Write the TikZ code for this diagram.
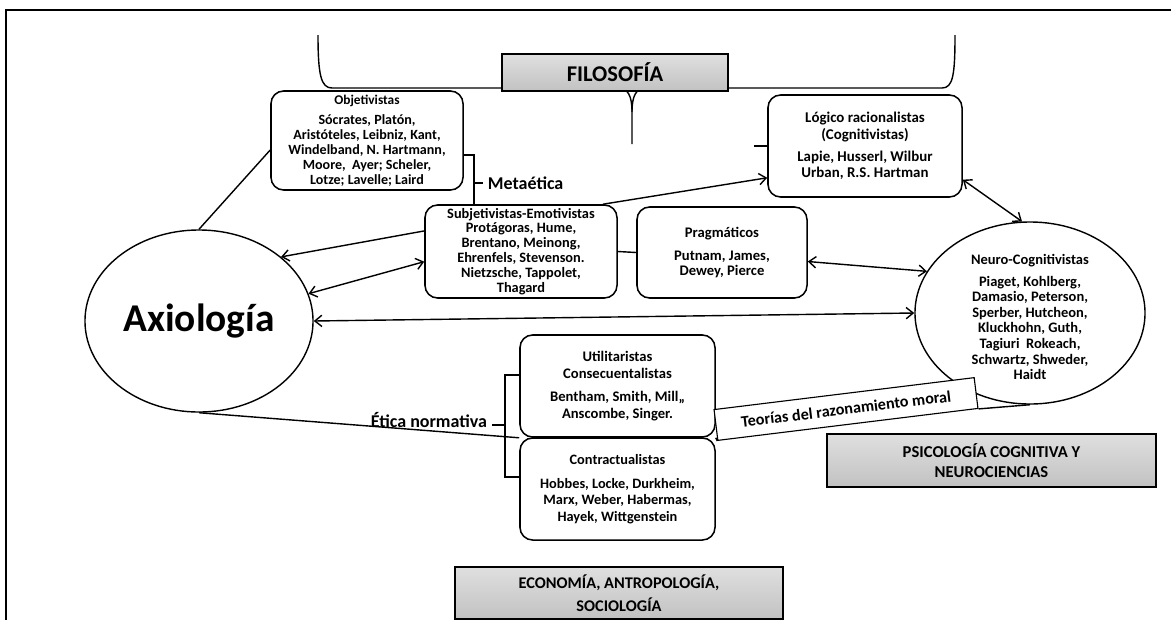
\documentclass[tikz,border=0pt]{standalone}
\usepackage{fontspec}
\setmainfont{Carlito}
\usetikzlibrary{shapes.geometric,arrows.meta,shadows}

\begin{document}
\begin{tikzpicture}[x=0.025cm,y=-0.025cm,
    every node/.style={font=\bfseries},
    >={Straight Barb[length=5pt,width=8pt]},
    autores/.style={draw,line width=1.1pt,rounded corners=9pt,align=center,inner sep=0pt,
        font=\fontsize{10}{11.5}\selectfont\bfseries},
    elipse/.style={draw,ellipse,line width=1pt,inner sep=0pt},
    area/.style={draw,line width=1pt,top color=gray!25,bottom color=gray!48,align=center,
        drop shadow={shadow xshift=1pt,shadow yshift=-1pt,fill=black!60,opacity=1}},
    enlace/.style={line width=1pt},
    rotulo/.style={font=\fontsize{12.8}{14}\selectfont\bfseries}]

    \useasboundingbox (0,0) rectangle (1171,620);

    % Marco
    \draw[line width=1.5pt] (6,620) -- (6,10) -- (1171,10);

    % Llave de la filosofia
    \draw[enlace] (318,35) .. controls (318,75) and (321,88) .. (332,88) -- (618,88)
        .. controls (628,88) and (632,96) .. (632,112) -- (632,144);
    \draw[enlace] (632,112) .. controls (632,96) and (636,88) .. (646,88) -- (942,88)
        .. controls (953,88) and (955,75) .. (955,35);

    % Areas
    \node[area,minimum width=5.65cm,minimum height=0.925cm,font=\fontsize{16}{18}\selectfont\bfseries] (filosofia) at (615,72.5) {FILOSOFÍA};
    \node[area,minimum width=8.225cm,minimum height=1.325cm,font=\fontsize{11.8}{14}\selectfont\bfseries] (psicologia) at (991.5,460.5) {PSICOLOGÍA COGNITIVA Y\\ NEUROCIENCIAS};
    \node[area,minimum width=8.2cm,minimum height=1.3cm,font=\fontsize{11.6}{16}\selectfont\bfseries] (economia) at (619,593) {ECONOMÍA, ANTROPOLOGÍA,\\ SOCIOLOGÍA};

    % Corrientes
    \node[autores,minimum width=4.8cm,minimum height=2.475cm,font=\fontsize{10}{10.6}\selectfont\bfseries] (objetivistas) at (367,140.5)
        {{\fontsize{9.5}{10.6}\selectfont Objetivistas}\\[4pt] Sócrates, Platón,\\ Aristóteles, Leibniz, Kant,\\ Windelband, N. Hartmann,\\ Moore,~ Ayer; Scheler,\\ Lotze; Lavelle; Laird};
    \node[autores,minimum width=4.8cm,minimum height=2.325cm,font=\fontsize{10.2}{10.6}\selectfont\bfseries] (subjetivistas) at (521,251.5)
        {Subjetivistas-Emotivistas\\ Protágoras, Hume,\\ Brentano, Meinong,\\ Ehrenfels, Stevenson.\\ Nietzsche, Tappolet,\\ Thagard};
    \node[autores,minimum width=4.25cm,minimum height=2.275cm,font=\fontsize{10.4}{10.8}\selectfont\bfseries] (pragmaticos) at (722,252.5)
        {Pragmáticos\\[6pt] Putnam, James,\\ Dewey, Pierce};
    \node[autores,minimum width=4.85cm,minimum height=2.55cm,font=\fontsize{10.6}{11.8}\selectfont\bfseries] (logicos) at (865,146)
        {Lógico racionalistas\\ (Cognitivistas)\\[4pt] Lapie, Husserl, Wilbur\\ Urban, R.S. Hartman};
    \node[autores,minimum width=4.875cm,minimum height=2.55cm,font=\fontsize{10.4}{12}\selectfont\bfseries] (utilitaristas) at (617.5,386)
        {Utilitaristas\\ Consecuentalistas\\[4pt] Bentham, Smith, Mill,,\\ Anscombe, Singer.};
    \node[autores,minimum width=4.875cm,minimum height=2.55cm,font=\fontsize{10.2}{11.7}\selectfont\bfseries] (contractualistas) at (617.5,489)
        {Contractualistas\\[5pt] Hobbes, Locke, Durkheim,\\ Marx, Weber, Habermas,\\ Hayek, Wittgenstein};

    % Elipses
    \node[elipse,minimum width=5.7cm,minimum height=4.55cm,font=\fontsize{28}{32}\selectfont\bfseries] (axiologia) at (199,321) {Axiología};
    \node[elipse,minimum width=5.75cm,minimum height=4.55cm] (neuro) at (1030,313) {};
    \node[align=center,font=\fontsize{10.3}{11.1}\selectfont\bfseries] (neurotexto) at ([yshift=-3pt]neuro.center)
        {Neuro-Cognitivistas\\[4pt] Piaget, Kohlberg,\\ Damasio, Peterson,\\ Sperber, Hutcheon,\\ Kluckhohn, Guth,\\ Tagiuri~ Rokeach,\\ Schwartz, Shweder,\\ Haidt};

    % Rotulos
    \node[rotulo,anchor=west] (metaetica) at (483,183) {Metaética};
    \node[rotulo,anchor=east] (etica) at (492,420) {Ética normativa};
    \node[draw,fill=white,line width=0.8pt,rotate=7,font=\fontsize{11.5}{13}\selectfont\bfseries,minimum width=6.55cm,minimum height=0.775cm,inner sep=0pt] (teorias) at (846,409) {Teorías del razonamiento moral};

    % Llaves
    \draw[enlace] (objetivistas.east |- 0,155) -| (subjetivistas.north -| 474,0);
    \draw[enlace] (474,183) -- (metaetica.west);
    \draw[enlace] (utilitaristas.west |- 0,375) -- (505,375) -- (505,477) -- (contractualistas.west |- 0,477);
    \draw[enlace] (505,425) -- (etica.east |- 0,425);

    % Conexiones
    \draw[enlace] (axiologia.north) -- (objetivistas.west |- 0,150);
    \draw[enlace,->] (subjetivistas.168) -- (axiologia.38);
    \draw[enlace,<->] (axiologia.14) -- (subjetivistas.186);
    \draw[enlace,<->] (axiologia.east) -- (neuro.west);
    \draw[enlace] (subjetivistas.east) -- (pragmaticos.west);
    \draw[enlace,<->] (pragmaticos.-6) -- (neuro.158);
    \draw[enlace,->] (subjetivistas.30) -- (logicos.198);
    \draw[enlace,<->] (logicos.-19) -- (neuro.95);
    \draw[enlace] (logicos.west) -- ++(-13,0);
    \draw[enlace] (axiologia.south) -- (utilitaristas.south west);
    \draw[enlace] (utilitaristas.south east) -- (teorias.south west);
    \draw[enlace] (teorias.south east) -- (neuro.south);
\end{tikzpicture}
\end{document}
